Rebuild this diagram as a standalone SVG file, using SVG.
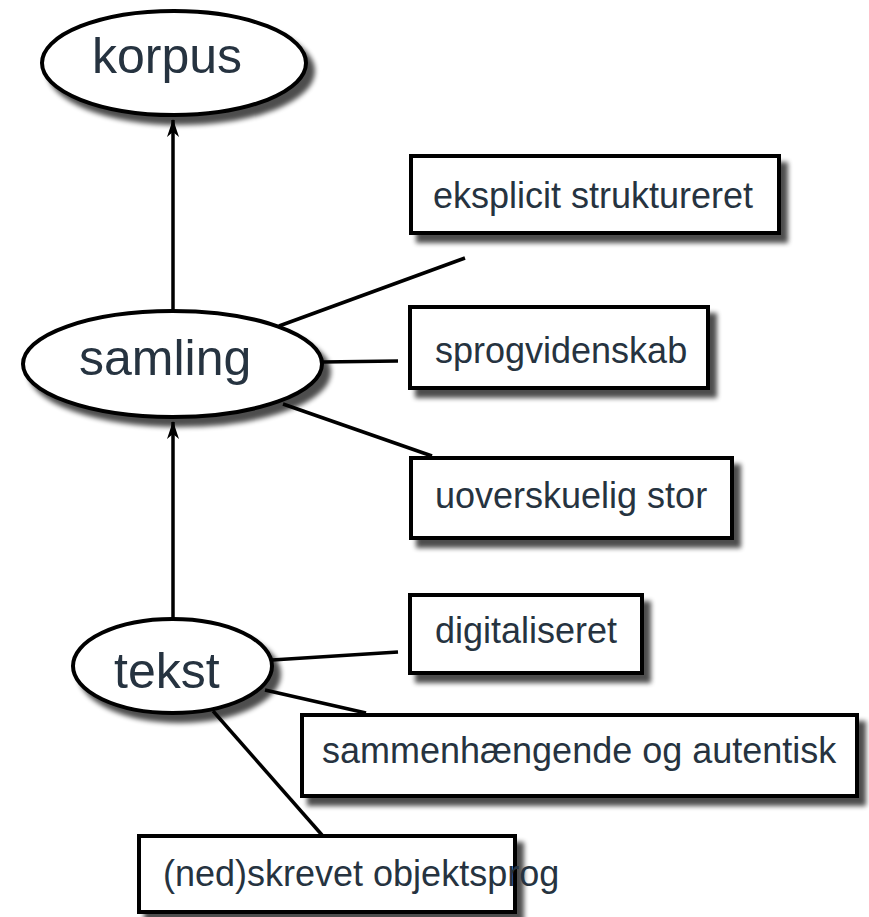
<svg xmlns="http://www.w3.org/2000/svg" width="869" height="917" viewBox="0 0 869 917">
<defs>
<filter id="sh" x="-20%" y="-20%" width="140%" height="150%">
<feGaussianBlur in="SourceAlpha" stdDeviation="2.5"/>
<feOffset dx="7" dy="8" result="b"/>
<feComponentTransfer><feFuncA type="linear" slope="0.7"/></feComponentTransfer>
<feMerge><feMergeNode/><feMergeNode in="SourceGraphic"/></feMerge>
</filter>
<marker id="ah" viewBox="0 0 18 14" refX="17" refY="7" markerWidth="18" markerHeight="14" markerUnits="userSpaceOnUse" orient="auto">
<path d="M0,1 L18,7 L0,13 L5,7 Z" fill="#000"/>
</marker>
</defs>
<style>
.shape{fill:#fff;stroke:#000;stroke-width:4}
.big{font-family:"Liberation Sans",Arial,sans-serif;font-size:50px;fill:#263340}
.lbl{font-family:"Liberation Sans",Arial,sans-serif;font-size:36px;fill:#263340}
.con{stroke:#000;stroke-width:3.5;fill:none}
</style>
<g id="connectors">
<line class="con" x1="173" y1="311" x2="173" y2="120" marker-end="url(#ah)"/>
<line class="con" x1="173" y1="620" x2="173" y2="422" marker-end="url(#ah)"/>
<line class="con" x1="279" y1="326" x2="465" y2="258"/>
<line class="con" x1="322" y1="362" x2="398" y2="361"/>
<line class="con" x1="283" y1="404" x2="432" y2="456"/>
<line class="con" x1="272" y1="660" x2="398" y2="652"/>
<line class="con" x1="265" y1="690" x2="366" y2="713"/>
<line class="con" x1="213" y1="711" x2="322" y2="835"/>
</g>
<g id="korpus">
<ellipse class="shape" filter="url(#sh)" cx="174" cy="63" rx="132" ry="52"/>
<text class="big" x="92" y="73">korpus</text>
</g>
<g id="samling">
<ellipse class="shape" filter="url(#sh)" cx="172.5" cy="364" rx="149.5" ry="53"/>
<text class="big" x="79" y="375">samling</text>
</g>
<g id="tekst">
<ellipse class="shape" filter="url(#sh)" cx="172.5" cy="666" rx="99.5" ry="47"/>
<text class="big" x="114" y="688">tekst</text>
</g>
<g id="eksplicit">
<rect class="shape" filter="url(#sh)" x="411" y="156" width="368" height="77"/>
<text class="lbl" x="433" y="208">eksplicit struktureret</text>
</g>
<g id="sprogvidenskab">
<rect class="shape" filter="url(#sh)" x="410" y="307" width="298" height="81"/>
<text class="lbl" x="435" y="363">sprogvidenskab</text>
</g>
<g id="uoverskuelig">
<rect class="shape" filter="url(#sh)" x="411" y="458" width="321" height="80"/>
<text class="lbl" x="435" y="508">uoverskuelig stor</text>
</g>
<g id="digitaliseret">
<rect class="shape" filter="url(#sh)" x="410" y="595" width="232" height="78"/>
<text class="lbl" x="435" y="643">digitaliseret</text>
</g>
<g id="sammenhaengende">
<rect class="shape" filter="url(#sh)" x="302" y="715" width="555" height="81"/>
<text class="lbl" x="322" y="763">sammenhængende og autentisk</text>
</g>
<g id="objektsprog">
<rect class="shape" filter="url(#sh)" x="139" y="836" width="376" height="76"/>
<text class="lbl" x="163" y="886">(ned)skrevet objektsprog</text>
</g>
</svg>
